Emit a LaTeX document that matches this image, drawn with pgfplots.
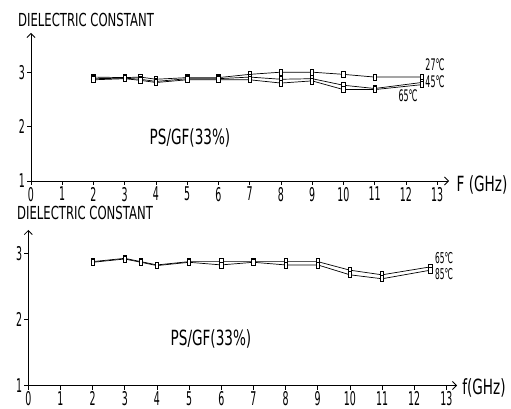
\documentclass[border=0pt]{standalone}
\usepackage{pgfplots}
\pgfplotsset{compat=1.18}
\usepackage{fontspec}
\setmainfont{DejaVu Sans}
\newfontfamily\cad[FakeStretch=0.65]{DejaVu Sans}
\newfontfamily\cadn[FakeStretch=0.5]{DejaVu Sans}
\usetikzlibrary{arrows.meta}
\pgfplotsset{
 cadaxis/.style={
  scale only axis, anchor=south west,
  axis lines=left,
  axis line style={line width=0.8bp, -{Straight Barb[length=4bp,width=8bp]}},
  xmin=0, ymin=1,
  xtick={0,...,13}, ytick={1,2,3},
  tick align=outside, major tick length=4bp,
  tick style={black, line width=0.6bp},
  /pgf/number format/assume math mode=true,
  tick label style={font=\cadn\fontsize{19}{19}\selectfont, inner sep=2bp},
  clip=false,
 },
 cadline/.style={black, line width=0.7bp, mark=square*, mark size=3bp,
     mark options={fill=white, draw=black, xscale=0.55, solid, line width=0.7bp}},
}
\begin{document}
\begin{tikzpicture}
\useasboundingbox (0,0) rectangle (511bp,409bp);
% top panel
\begin{axis}[cadaxis, at={(31bp,228bp)}, width=418bp, height=148bp, xmax=13.38, ymax=3.72]
\addplot[cadline] coordinates {(2,2.91)(3,2.90)(3.5,2.91)(4,2.87)(5,2.90)(6,2.90)(7,2.96)(8,3.0)(9,3.0)(10,2.96)(11,2.91)(12.5,2.91)};
\addplot[cadline] coordinates {(2,2.88)(3,2.89)(3.5,2.87)(4,2.83)(5,2.88)(6,2.88)(7,2.91)(8,2.87)(9,2.88)(10,2.76)(11,2.70)(12.5,2.81)};
\addplot[cadline] coordinates {(2,2.86)(3,2.88)(3.5,2.85)(4,2.81)(5,2.86)(6,2.86)(7,2.86)(8,2.80)(9,2.84)(10,2.68)(11,2.68)(12.5,2.77)};
\node[anchor=west, inner sep=0pt, font=\cadn\fontsize{16}{16}\selectfont] at (axis cs:12.62,3.13) {27℃};
\node[anchor=west, inner sep=0pt, font=\cadn\fontsize{16}{16}\selectfont] at (axis cs:12.62,2.82) {45℃};
\node[inner sep=0pt, font=\cadn\fontsize{16}{16}\selectfont] at (axis cs:12.07,2.56) {65℃};
\end{axis}
% bottom panel
\begin{axis}[cadaxis, at={(28.3bp,23.5bp)}, width=428.7bp, height=155.5bp, xmax=13.33, ymax=3.36]
\addplot[cadline] coordinates {(2,2.88)(3,2.93)(3.5,2.88)(4,2.83)(5,2.88)(6,2.88)(7,2.88)(8,2.88)(9,2.88)(10,2.75)(11,2.68)(12.5,2.80)};
\addplot[cadline] coordinates {(2,2.87)(3,2.92)(3.5,2.87)(4,2.82)(5,2.87)(6,2.83)(7,2.87)(8,2.83)(9,2.83)(10,2.68)(11,2.62)(12.5,2.75)};
\node[anchor=west, inner sep=0pt, font=\cadn\fontsize{15}{15}\selectfont] at (axis cs:12.64,2.94) {65℃};
\node[anchor=west, inner sep=0pt, font=\cadn\fontsize{15}{15}\selectfont] at (axis cs:12.64,2.69) {85℃};
\end{axis}
% texts
\node[inner sep=0pt, font=\cad\fontsize{18}{18}\selectfont] at (86bp,389bp) {DIELECTRIC CONSTANT};
\node[inner sep=0pt, font=\cad\fontsize{18}{18}\selectfont] at (85bp,196.5bp) {DIELECTRIC CONSTANT};
\node[inner sep=0pt, font=\cad\fontsize{21}{21}\selectfont] at (190bp,271.5bp) {PS/GF(33\%)};
\node[inner sep=0pt, font=\cad\fontsize{21}{21}\selectfont] at (211bp,70.5bp) {PS/GF(33\%)};
\node[inner sep=0pt, font=\cad\fontsize{21}{21}\selectfont] at (482bp,224bp) {F (GHz)};
\node[inner sep=0pt, font=\cad\fontsize{21}{21}\selectfont] at (484bp,21bp) {f(GHz)};
\end{tikzpicture}
\end{document}
